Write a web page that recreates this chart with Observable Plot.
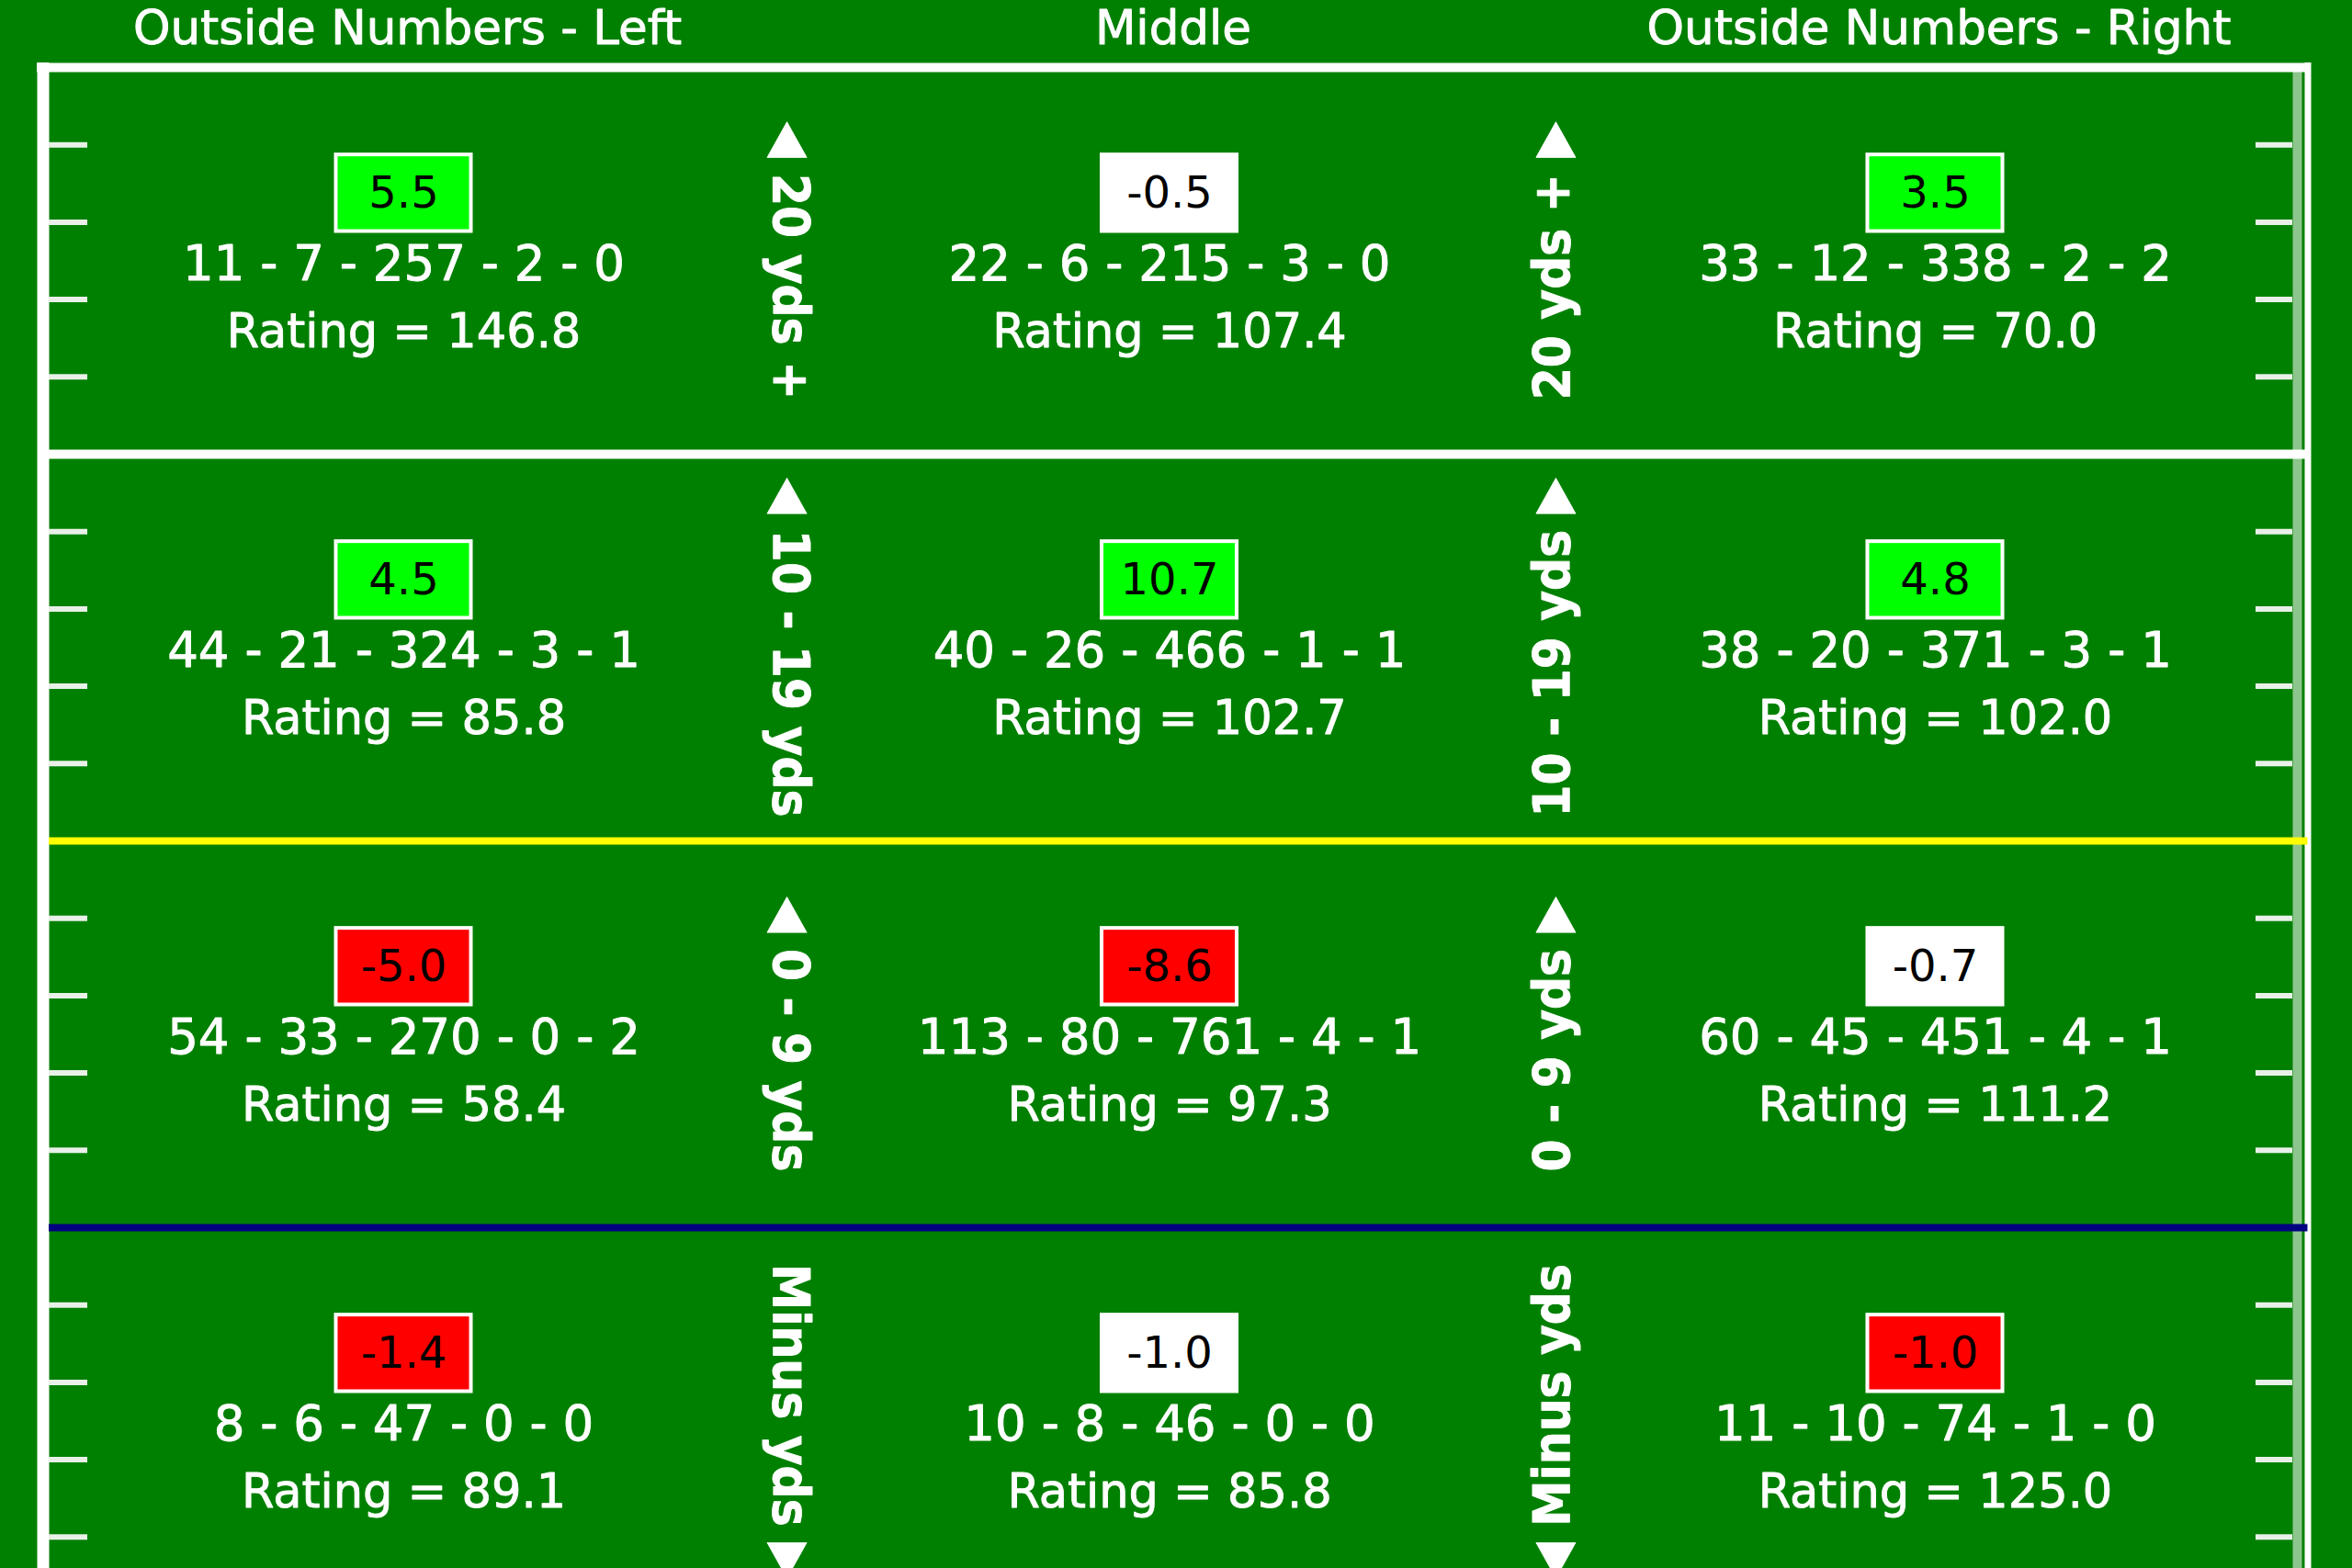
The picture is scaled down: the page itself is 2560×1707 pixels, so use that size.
<!DOCTYPE html>
<html>
<head>
<meta charset="utf-8">
<script src="https://cdn.jsdelivr.net/npm/d3@7"></script>
<script src="https://cdn.jsdelivr.net/npm/@observablehq/plot@0.6"></script>
<style>
  html, body { margin: 0; padding: 0; background: #008000; }
  #chart { width: 2560px; height: 1707px; overflow: hidden; }
</style>
</head>
<body>
<div id="chart"></div>
<script>
// ---- data ----
const columns = ["Outside Numbers - Left", "Middle", "Outside Numbers - Right"];
const depthLabels = ["20 yds +", "10 - 19 yds", "0 - 9 yds", "Minus yds"];
const depthDirection = ["up", "up", "up", "down"];

// cells in reading order: row (depth) by column
const plusMinus   = [5.5, -0.5, 3.5, 4.5, 10.7, 4.8, -5.0, -8.6, -0.7, -1.4, -1.0, -1.0];
const grade       = ["good","neutral","good","good","good","good","bad","bad","neutral","bad","neutral","bad"];
const attempts    = [11, 22, 33, 44, 40, 38, 54, 113, 60, 8, 10, 11];
const completions = [7, 6, 12, 21, 26, 20, 33, 80, 45, 6, 8, 10];
const yards       = [257, 215, 338, 324, 466, 371, 270, 761, 451, 47, 46, 74];
const touchdowns  = [2, 3, 2, 3, 1, 3, 0, 4, 4, 0, 0, 1];
const interceptions = [0, 0, 2, 1, 1, 1, 2, 1, 1, 0, 0, 0];
const ratings     = [146.8, 107.4, 70.0, 85.8, 102.7, 102.0, 58.4, 97.3, 111.2, 89.1, 85.8, 125.0];

// ---- build tables ----
const cells = plusMinus.map((pm, i) => ({
  row: Math.floor(i / 3), col: i % 3, pm, grade: grade[i],
  stat: `${attempts[i]} - ${completions[i]} - ${yards[i]} - ${touchdowns[i]} - ${interceptions[i]}`,
  rating: `Rating = ${ratings[i].toFixed(1)}`
}));
const headers = columns.map((name, col) => ({name, col}));
const zones = depthLabels.map((lab, row) => ({row, lab, dir: depthDirection[row]}));

// ---- geometry (field units: one column = 1 in x, one row = 5 "yards" in y, downward) ----
const W = 2560, H = 1707;
const ROW = 5;
const yPx = 84.2, yTop = 73;      // px per yard, field top
const xPx = 833.5, xCol0 = 439;   // px per column, first column center
const yDomain = [-yTop / yPx, (H - yTop) / yPx];
const xDomain = [-xCol0 / xPx, (W - xCol0) / xPx];
const px = p => (p - xCol0) / xPx;  // helper for frame edges
const FL_OUT = px(40), FL = px(46.5), FL_IN = px(53);
const FR = px(2511.5), FR_FADE = px(2500), FR_IN = px(2495), FR_OUT = px(2515);
const hashes = d3.range(1, 20).filter(v => v % ROW !== 0);
const separators = [
  {y: ROW, color: "#ffffff", w: 10},
  {y: 2 * ROW, color: "#ffff00", w: 8},
  {y: 3 * ROW, color: "#000080", w: 8}
];

const FONT = "DejaVu Sans, Verdana, sans-serif";
const LABEL_FONT = "DejaVu Sans Condensed, DejaVu Sans, sans-serif";
const white = {fill: "#ffffff", stroke: "#ffffff", strokeWidth: 0.9, lineAnchor: "middle"};
const chart = Plot.plot({
  width: W, height: H,
  margin: 0,
  style: {background: "#008000", fontFamily: FONT},
  x: {type: "linear", domain: xDomain, axis: null},
  y: {type: "linear", domain: yDomain, reverse: true, axis: null},
  color: {domain: ["good", "neutral", "bad"], range: ["#00ff00", "#ffffff", "#ff0000"]},
  marks: [
    // field frame
    Plot.ruleY([0], {x1: () => FL_OUT, x2: () => FR_OUT, stroke: "#ffffff", strokeWidth: 10}),
    Plot.ruleX([FL], {y1: () => -0.06, y2: () => yDomain[1], stroke: "#ffffff", strokeWidth: 13}),
    Plot.ruleX([FR], {y1: () => -0.06, y2: () => yDomain[1], stroke: "#ffffff", strokeWidth: 7}),
    Plot.ruleX([FR_FADE], {y1: () => 0, y2: () => yDomain[1], stroke: "#ffffff", strokeOpacity: 0.55, strokeWidth: 10}),
    // row separators
    Plot.ruleY(separators, {y: "y", x1: () => FL_IN, x2: () => FR, stroke: d => d.color, strokeWidth: d => d.w}),
    // hash marks
    Plot.ruleY(hashes, {y: d => d, x1: () => FL_IN, x2: () => px(95), stroke: "#e8f0e8", strokeWidth: 6}),
    Plot.ruleY(hashes, {y: d => d, x1: () => px(2455), x2: () => FR_IN, stroke: "#e8f0e8", strokeWidth: 6}),
    // column headers
    Plot.text(headers, {x: "col", y: () => -0.5, dx: 4, text: "name", fontSize: 51.5, ...white}),
    // value boxes
    Plot.rect(cells, {x1: d => d.col - 0.0882, x2: d => d.col + 0.0882,
      y1: d => d.row * ROW + 1.13, y2: d => d.row * ROW + 2.12,
      fill: "grade", stroke: "#ffffff", strokeWidth: 4}),
    Plot.text(cells, {x: "col", y: d => d.row * ROW + 1.63, text: d => d.pm.toFixed(1),
      fill: "#000000", fontSize: 48, lineAnchor: "middle"}),
    Plot.text(cells, {x: "col", y: d => d.row * ROW + 2.55, text: "stat", fontSize: 53, ...white}),
    Plot.text(cells, {x: "col", y: d => d.row * ROW + 3.42, text: "rating", fontSize: 51, ...white}),
    // depth labels between columns (rotated like yard numbers)
    Plot.text(zones, {x: () => 0.505, y: d => d.row * ROW + 2.5,
      text: d => d.dir === "up" ? `\u25C0 ${d.lab}` : `${d.lab} \u25B6`,
      rotate: 90, fontSize: 56, fontWeight: "bold", fontFamily: LABEL_FONT, ...white}),
    Plot.text(zones, {x: () => 1.5, y: d => d.row * ROW + 2.5,
      text: d => d.dir === "up" ? `${d.lab} \u25B6` : `\u25C0 ${d.lab}`,
      rotate: -90, fontSize: 56, fontWeight: "bold", fontFamily: LABEL_FONT, ...white})
  ]
});
document.getElementById("chart").appendChild(chart);
</script>
</body>
</html>
